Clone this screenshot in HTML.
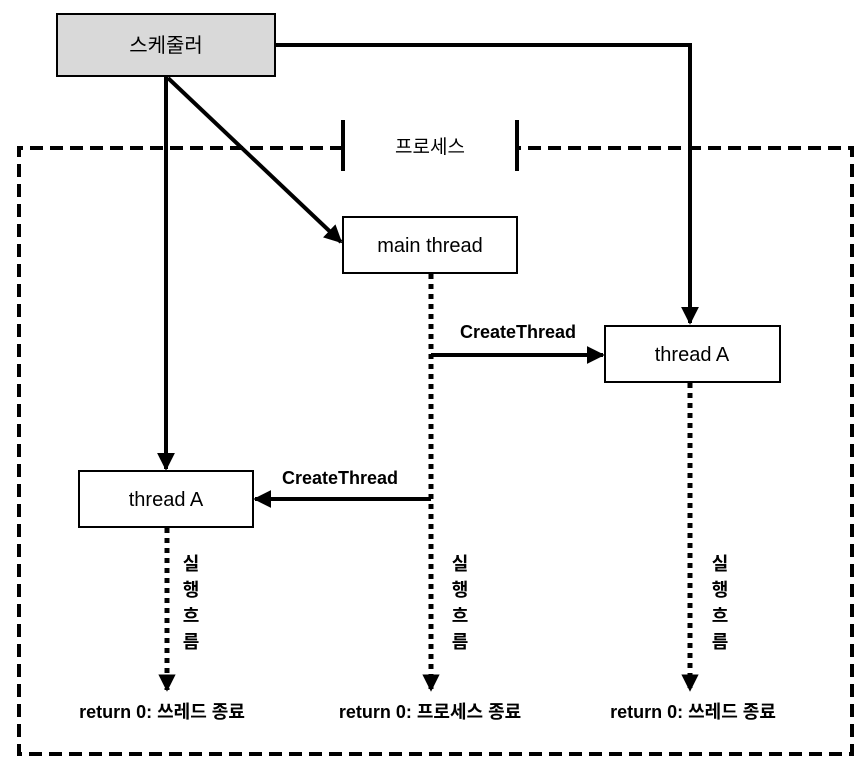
<!DOCTYPE html>
<html><head><meta charset="utf-8"><style>
body{margin:0;background:#fff}
svg text{font-family:"Liberation Sans","Noto Sans CJK KR",sans-serif;fill:#000}
</style></head><body>
<svg width="868" height="771" viewBox="0 0 868 771" xmlns="http://www.w3.org/2000/svg">
<defs>
<marker id="a" viewBox="0 0 10 10" refX="9" refY="5" markerWidth="4.5" markerHeight="4.5" orient="auto" markerUnits="strokeWidth"><path d="M0,0L10,5L0,10z" fill="#000"/></marker>
<marker id="b" viewBox="0 0 10 10" refX="9" refY="5" markerWidth="3.5" markerHeight="3.5" orient="auto" markerUnits="strokeWidth"><path d="M0,0L10,5L0,10z" fill="#000"/></marker>
</defs>
<path d="M343,148 L19,148 L19,754 L852,754 L852,148 L517,148" fill="none" stroke="#000" stroke-width="4" stroke-dasharray="13,7"/>
<line x1="343" y1="120" x2="343" y2="171" stroke="#000" stroke-width="4"/>
<line x1="517" y1="120" x2="517" y2="171" stroke="#000" stroke-width="4"/>
<text x="430" y="153" font-size="19" text-anchor="middle">프로세스</text>
<rect x="57" y="14" width="218" height="62" fill="#d9d9d9" stroke="#000" stroke-width="2"/>
<text x="166" y="52" font-size="20" text-anchor="middle">스케줄러</text>
<line x1="166" y1="76" x2="166" y2="469" stroke="#000" stroke-width="4" marker-end="url(#a)"/>
<line x1="168" y1="78" x2="341" y2="242" stroke="#000" stroke-width="4" marker-end="url(#a)"/>
<polyline points="275,45 690,45 690,323" fill="none" stroke="#000" stroke-width="4" marker-end="url(#a)"/>
<rect x="343" y="217" width="174" height="56" fill="#fff" stroke="#000" stroke-width="2"/>
<text x="430" y="252" font-size="20" text-anchor="middle">main thread</text>
<line x1="431" y1="274" x2="431" y2="690" stroke="#000" stroke-width="5" stroke-dasharray="5,5" marker-end="url(#b)"/>
<rect x="605" y="326" width="175" height="56" fill="#fff" stroke="#000" stroke-width="2"/>
<text x="692" y="361" font-size="20" text-anchor="middle">thread A</text>
<line x1="431" y1="355" x2="603" y2="355" stroke="#000" stroke-width="4" marker-end="url(#a)"/>
<text x="518" y="338" font-size="18" font-weight="bold" text-anchor="middle">CreateThread</text>
<line x1="690" y1="383" x2="690" y2="690" stroke="#000" stroke-width="5" stroke-dasharray="5,5" marker-end="url(#b)"/>
<rect x="79" y="471" width="174" height="56" fill="#fff" stroke="#000" stroke-width="2"/>
<text x="166" y="506" font-size="20" text-anchor="middle">thread A</text>
<line x1="431" y1="499" x2="255" y2="499" stroke="#000" stroke-width="4" marker-end="url(#a)"/>
<text x="340" y="484" font-size="18" font-weight="bold" text-anchor="middle">CreateThread</text>
<line x1="167" y1="528" x2="167" y2="690" stroke="#000" stroke-width="5" stroke-dasharray="5,5" marker-end="url(#b)"/>
<g font-size="18" font-weight="bold" text-anchor="middle">
<text x="191" y="570">실</text><text x="191" y="596">행</text><text x="191" y="622">흐</text><text x="191" y="648">름</text>
<text x="460" y="570">실</text><text x="460" y="596">행</text><text x="460" y="622">흐</text><text x="460" y="648">름</text>
<text x="720" y="570">실</text><text x="720" y="596">행</text><text x="720" y="622">흐</text><text x="720" y="648">름</text>
</g>
<g font-size="18" font-weight="bold" text-anchor="middle">
<text x="162" y="718">return 0: 쓰레드 종료</text>
<text x="430" y="718">return 0: 프로세스 종료</text>
<text x="693" y="718">return 0: 쓰레드 종료</text>
</g>
</svg>
</body></html>
